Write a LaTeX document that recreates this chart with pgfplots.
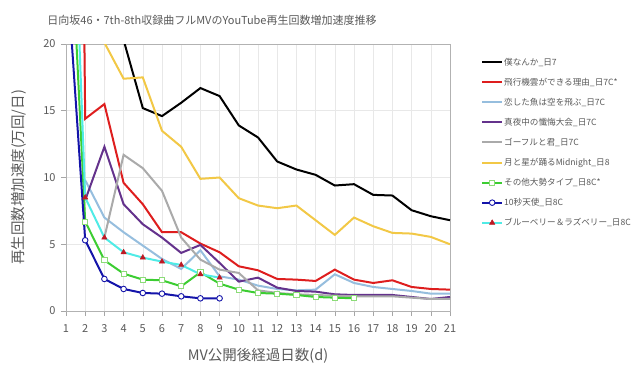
\documentclass[border=0pt]{standalone}
\usepackage{fontspec}
\setmainfont{Noto Sans CJK JP}
\usepackage{pgfplots}
\pgfplotsset{compat=1.18}
\definecolor{txt}{RGB}{89,89,89}
\definecolor{cRed}{RGB}{222,30,30}
\definecolor{cLB}{RGB}{150,190,222}
\definecolor{cPur}{RGB}{100,50,140}
\definecolor{cGray}{RGB}{170,170,170}
\definecolor{cYel}{RGB}{242,200,70}
\definecolor{cGrn}{RGB}{60,205,50}
\definecolor{cGrnM}{RGB}{140,220,120}
\definecolor{cNavy}{RGB}{20,20,170}
\definecolor{cCyan}{RGB}{80,235,230}
\definecolor{cTri}{RGB}{190,25,35}
\begin{document}
\begin{tikzpicture}[x=1pt,y=1pt]
\path[use as bounding box] (-66,-65) rectangle (574,311);
\begin{axis}[
  at={(0,0)}, anchor=south west,
  scale only axis, width=384pt, height=267pt,
  xmin=1, xmax=21, ymin=0, ymax=20,
  xtick={1,2,...,21}, ytick={0,5,10,15,20},
  /pgf/number format/assume math mode=true,
  tick label style={font=\fontsize{11}{13}\selectfont, text=txt},
  xticklabel style={yshift=-5pt},
  yticklabel style={xshift=-2pt},
  tick align=outside, tick style={color=black!35, line width=0.6pt},
  major tick length=5pt,
  xtick pos=bottom, ytick pos=left,
  axis line style={black!30, line width=0.8pt},
  grid=major, major grid style={black!9, line width=0.6pt},
  xlabel={MV公開後経過日数(d)},
  ylabel={再生回数増加速度(万回/日)},
  label style={font=\fontsize{14.5}{16}\selectfont, text=txt},
  xlabel style={yshift=-9pt},
  ylabel style={yshift=10pt},
  every axis plot/.append style={line width=2pt},
  legend style={at={(1.073,0.96)}, anchor=north west, draw=none, fill=none,
    font=\fontsize{8.6}{10.5}\selectfont, text=txt, row sep=9.3pt,
    nodes={inner sep=1pt}},
  legend cell align=left,
  legend image code/.code={
    \draw[#1] (0cm,0cm) -- (0.7cm,0cm);
    \draw[#1, only marks] plot coordinates {(0.35cm,0cm)};
  },
]
\addplot[black, mark=none] coordinates {(3,30)(4,20.3)(5,15.2)(6,14.6)(7,15.6)(8,16.7)(9,16.1)(10,13.9)(11,13.0)(12,11.2)(13,10.6)(14,10.2)(15,9.4)(16,9.5)(17,8.7)(18,8.65)(19,7.55)(20,7.1)(21,6.8)};
\addlegendentry{僕なんか\_日7}
\addplot[cRed, mark=none] coordinates {(1,150)(2,14.4)(3,15.5)(4,9.6)(5,8.0)(6,5.9)(7,5.9)(8,5.05)(9,4.4)(10,3.35)(11,3.05)(12,2.4)(13,2.35)(14,2.25)(15,3.1)(16,2.35)(17,2.1)(18,2.3)(19,1.8)(20,1.65)(21,1.6)};
\addlegendentry{飛行機雲ができる理由\_日7C*}
\addplot[cLB, mark=none] coordinates {(2,9.8)(3,7.0)(4,5.9)(5,4.9)(6,3.9)(7,3.15)(8,4.55)(9,2.6)(10,2.35)(11,1.9)(12,1.65)(13,1.55)(14,1.6)(15,2.75)(16,2.1)(17,1.8)(18,1.65)(19,1.5)(20,1.3)(21,1.3)};
\addlegendentry{恋した魚は空を飛ぶ\_日7C}
\addplot[cPur, mark=none] coordinates {(2,8.3)(3,12.3)(4,8.0)(5,6.5)(6,5.5)(7,4.35)(8,4.95)(9,3.6)(10,2.2)(11,2.5)(12,1.75)(13,1.5)(14,1.45)(15,1.25)(16,1.2)(17,1.2)(18,1.2)(19,1.05)(20,0.9)(21,1.05)};
\addlegendentry{真夜中の懺悔大会\_日7C}
\addplot[cGray, mark=none] coordinates {(3,5.5)(4,11.7)(5,10.7)(6,9.0)(7,5.5)(8,3.85)(9,3.1)(10,2.85)(11,1.55)(12,1.35)(13,1.25)(14,1.2)(15,1.15)(16,1.1)(17,1.1)(18,1.1)(19,1.0)(20,0.9)(21,0.9)};
\addlegendentry{ゴーフルと君\_日7C}
\addplot[cYel, mark=none] coordinates {(2,60)(3,20.1)(4,17.4)(5,17.5)(6,13.5)(7,12.3)(8,9.9)(9,10.0)(10,8.45)(11,7.9)(12,7.7)(13,7.9)(14,6.8)(15,5.7)(16,7.0)(17,6.35)(18,5.85)(19,5.8)(20,5.55)(21,5.0)};
\addlegendentry{月と星が踊るMidnight\_日8}
\addplot[cGrn, mark=square*, mark size=2.6pt, mark options={fill=white, draw=cGrnM, line width=0.9pt}] coordinates {(1,36)(2,6.7)(3,3.8)(4,2.8)(5,2.35)(6,2.3)(7,1.85)(8,2.9)(9,2.05)(10,1.6)(11,1.35)(12,1.3)(13,1.2)(14,1.05)(15,1.0)(16,0.95)};
\addlegendentry{その他大勢タイプ\_日8C*}
\addplot[cNavy, mark=*, mark size=2.8pt, mark options={fill=white, draw=cNavy, line width=0.9pt}] coordinates {(1,26.5)(2,5.3)(3,2.4)(4,1.65)(5,1.35)(6,1.3)(7,1.1)(8,0.95)(9,0.95)};
\addlegendentry{10秒天使\_日8C}
\addplot[cCyan, mark=triangle*, mark size=3pt, mark options={fill=cTri, draw=cTri, line width=0.5pt}] coordinates {(1,47)(2,8.5)(3,5.5)(4,4.4)(5,4.0)(6,3.7)(7,3.45)(8,2.75)(9,2.5)};
\addlegendentry{ブルーベリー＆ラズベリー\_日8C}
\end{axis}
\node[anchor=center, text=txt, font=\fontsize{11}{13}\selectfont] at (146,291) {日向坂46・7th-8th収録曲フルMVのYouTube再生回数増加速度推移};
\end{tikzpicture}
\end{document}
